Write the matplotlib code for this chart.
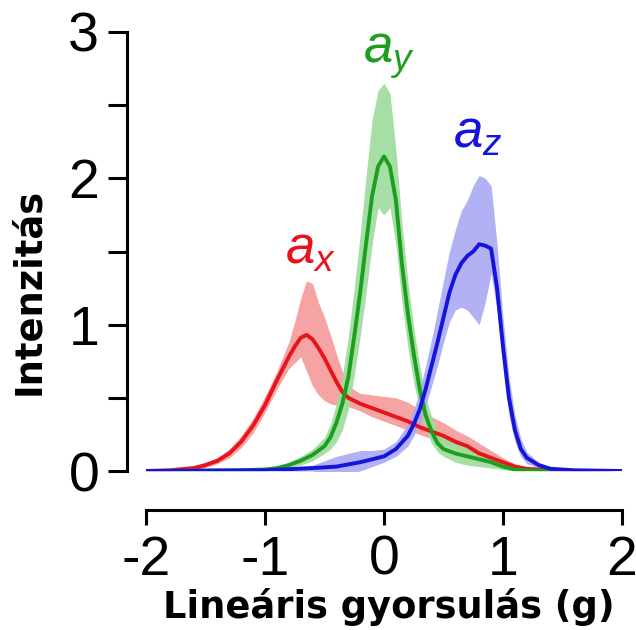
import numpy as np
import matplotlib.pyplot as plt

plt.rcParams['font.family'] = 'Liberation Sans'
plt.rcParams['mathtext.fontset'] = 'custom'
plt.rcParams['mathtext.it'] = 'Liberation Sans:italic'
plt.rcParams['mathtext.rm'] = 'Liberation Sans'

# ========================
# DATA
# ========================

x_red = [-2.0, -1.8, -1.6, -1.5, -1.4, -1.3, -1.2, -1.1, -1.0, -0.9, -0.8, -0.75,
         -0.7, -0.65, -0.6, -0.55, -0.5, -0.45, -0.4, -0.35, -0.3, -0.2, -0.1, 0.0,
         0.1, 0.2, 0.3, 0.4, 0.5, 0.6, 0.7, 0.8, 0.9, 1.0, 1.1, 1.2, 1.4, 1.6, 2.0]
y_red = [0.0, 0.005, 0.02, 0.04, 0.07, 0.12, 0.20, 0.31, 0.45, 0.62, 0.78, 0.85,
         0.91, 0.93, 0.90, 0.84, 0.77, 0.69, 0.61, 0.54, 0.50, 0.46, 0.43, 0.40,
         0.37, 0.34, 0.30, 0.27, 0.24, 0.20, 0.17, 0.12, 0.09, 0.06, 0.03, 0.015, 0.005, 0.0, 0.0]
lo_red = [0.0, 0.0, 0.01, 0.025, 0.05, 0.09, 0.16, 0.26, 0.40, 0.56, 0.70, 0.74,
          0.78, 0.68, 0.58, 0.52, 0.48, 0.46, 0.45, 0.46, 0.44, 0.41, 0.37, 0.34,
          0.31, 0.28, 0.25, 0.22, 0.19, 0.15, 0.12, 0.08, 0.05, 0.03, 0.01, 0.005, 0.0, 0.0, 0.0]
hi_red = [0.01, 0.015, 0.035, 0.06, 0.09, 0.15, 0.24, 0.36, 0.51, 0.68, 0.88, 1.02,
          1.18, 1.30, 1.28, 1.15, 1.05, 0.93, 0.80, 0.68, 0.58, 0.53, 0.52, 0.51,
          0.50, 0.47, 0.42, 0.37, 0.33, 0.28, 0.24, 0.19, 0.14, 0.09, 0.05, 0.025, 0.01, 0.005, 0.0]

x_green = [-2.0, -1.2, -1.0, -0.9, -0.8, -0.7, -0.6, -0.5, -0.45, -0.4, -0.35, -0.3,
           -0.25, -0.2, -0.15, -0.1, -0.05, 0.0, 0.05, 0.1, 0.15, 0.2, 0.25, 0.3,
           0.35, 0.4, 0.45, 0.5, 0.6, 0.7, 0.8, 0.9, 1.0, 1.1, 1.2, 1.4, 2.0]
y_green = [0.0, 0.005, 0.01, 0.02, 0.04, 0.07, 0.11, 0.17, 0.23, 0.33, 0.46, 0.64,
           0.92, 1.22, 1.56, 1.88, 2.08, 2.15, 2.08, 1.85, 1.42, 1.08, 0.80, 0.56,
           0.38, 0.27, 0.19, 0.15, 0.12, 0.10, 0.08, 0.06, 0.03, 0.01, 0.005, 0.0, 0.0]
lo_green = [0.0, 0.0, 0.0, 0.01, 0.02, 0.04, 0.07, 0.12, 0.15, 0.20, 0.28, 0.42,
            0.65, 0.92, 1.22, 1.55, 1.80, 1.75, 1.80, 1.55, 1.15, 0.85, 0.60, 0.42,
            0.28, 0.19, 0.13, 0.10, 0.06, 0.04, 0.03, 0.02, 0.01, 0.0, 0.0, 0.0, 0.0]
hi_green = [0.005, 0.01, 0.02, 0.03, 0.06, 0.10, 0.15, 0.23, 0.32, 0.46, 0.65, 0.92,
            1.25, 1.62, 2.02, 2.40, 2.60, 2.65, 2.58, 2.20, 1.70, 1.30, 0.98, 0.72,
            0.50, 0.37, 0.28, 0.23, 0.19, 0.17, 0.14, 0.10, 0.05, 0.02, 0.01, 0.0, 0.0]

x_blue = [-2.0, -1.0, -0.6, -0.5, -0.4, -0.3, -0.2, -0.1, 0.0, 0.1, 0.2, 0.25, 0.3,
          0.35, 0.4, 0.45, 0.5, 0.55, 0.6, 0.65, 0.7, 0.75, 0.8, 0.85, 0.9, 0.95,
          1.0, 1.05, 1.1, 1.15, 1.2, 1.3, 1.4, 1.6, 2.0]
y_blue = [0.0, 0.005, 0.02, 0.025, 0.03, 0.045, 0.06, 0.08, 0.10, 0.15, 0.24, 0.32, 0.42,
          0.56, 0.72, 0.88, 1.05, 1.22, 1.34, 1.42, 1.47, 1.50, 1.55, 1.54, 1.52, 1.25,
          0.85, 0.50, 0.28, 0.15, 0.09, 0.04, 0.015, 0.005, 0.0]
lo_blue = [0.0, 0.0, 0.0, -0.02, -0.04, -0.03, 0.0, 0.03, 0.06, 0.10, 0.17, 0.24, 0.32,
           0.44, 0.58, 0.72, 0.88, 1.02, 1.10, 1.12, 1.10, 1.05, 1.00, 1.15, 1.35, 1.10,
           0.70, 0.38, 0.20, 0.10, 0.05, 0.02, 0.005, 0.0, 0.0]
hi_blue = [0.005, 0.01, 0.04, 0.07, 0.10, 0.12, 0.14, 0.14, 0.15, 0.20, 0.32, 0.42, 0.55,
           0.72, 0.90, 1.10, 1.30, 1.50, 1.65, 1.78, 1.85, 1.95, 2.02, 2.00, 1.95, 1.55,
           1.05, 0.65, 0.38, 0.22, 0.13, 0.06, 0.025, 0.01, 0.0]

x_ticks = [-2, -1, 0, 1, 2]
y_ticks = [0, 0.5, 1, 1.5, 2, 2.5, 3]
y_tick_labels = ['0', '', '1', '', '2', '', '3']

red = '#e8141c'
green = '#1e9e1e'
blue = '#1414dc'

# ========================
# PLOT
# ========================

fig = plt.figure(figsize=(6.36, 6.3), dpi=100)
ax = fig.add_axes([146 / 636, 159 / 630, 476 / 636, 439 / 630])

ax.fill_between(x_red, lo_red, hi_red, color='#f5a3a3', lw=0)
ax.fill_between(x_green, lo_green, hi_green, color='#9cdc9c', lw=0, alpha=0.9)
ax.fill_between(x_blue, lo_blue, hi_blue, color='#a9a9f2', lw=0, alpha=0.9)

ax.plot(x_red, y_red, color=red, lw=2.8)
ax.plot(x_green, y_green, color=green, lw=2.8)
ax.plot(x_blue, y_blue, color=blue, lw=2.8)

ax.text(-0.83, 1.42, r'$a_x$', color=red, fontsize=38)
ax.text(-0.18, 2.79, r'$a_y$', color=green, fontsize=38)
ax.text(0.58, 2.21, r'$a_z$', color=blue, fontsize=38)

ax.set_xlim(-2, 2)
ax.set_ylim(0, 3)

for side in ['top', 'right']:
    ax.spines[side].set_visible(False)
ax.spines['left'].set_position(('outward', 13.7))
ax.spines['bottom'].set_position(('outward', 28))
ax.spines['left'].set_bounds(0, 3)
ax.spines['bottom'].set_bounds(-2, 2)
ax.spines['left'].set_linewidth(2.2)
ax.spines['bottom'].set_linewidth(2.2)

ax.set_xticks(x_ticks)
ax.set_xticklabels([str(t) for t in x_ticks])
ax.set_yticks(y_ticks)
ax.set_yticklabels(y_tick_labels)
ax.tick_params(axis='y', length=14, width=2.2, labelsize=40, pad=6)
ax.tick_params(axis='x', length=11, width=2.2, labelsize=40, pad=7)

fig.text(389 / 636, 1 - 618 / 630, 'Lineáris gyorsulás (g)', fontsize=26.5,
         fontweight='bold', family='DejaVu Sans', ha='center', va='baseline')
fig.text(29 / 636, 1 - 291 / 630, 'Intenzitás', fontsize=26.5, fontweight='bold',
         family='DejaVu Sans', rotation=90, ha='center', va='center')

plt.savefig('out.png', dpi=100)
